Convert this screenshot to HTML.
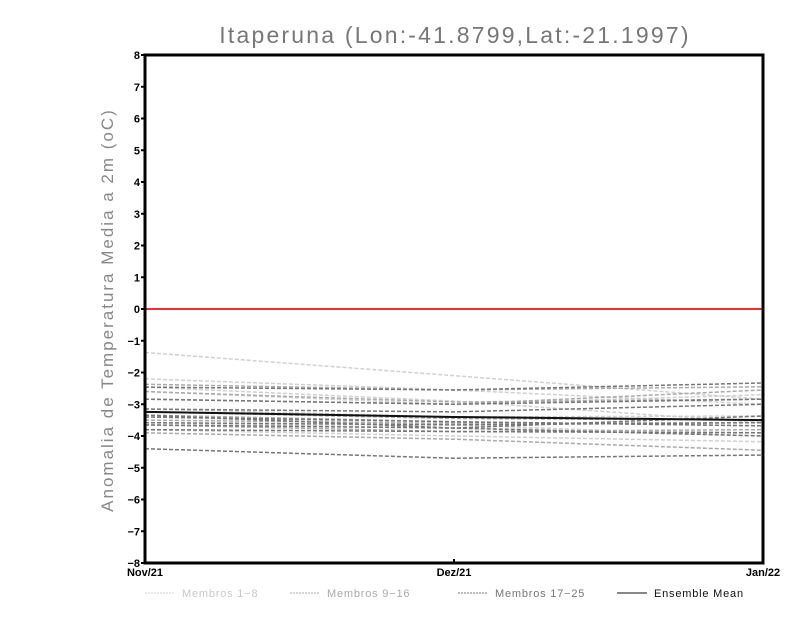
<!DOCTYPE html>
<html><head><meta charset="utf-8"><style>
body{margin:0;background:#fff;}
svg{display:block;font-family:"Liberation Sans",sans-serif;}
</style></head><body>
<svg id="chart" width="800" height="618">
<text x="455" y="43" text-anchor="middle" font-size="23" letter-spacing="2.2" fill="#777">Itaperuna (Lon:-41.8799,Lat:-21.1997)</text>
<text transform="translate(113,310) rotate(-90)" text-anchor="middle" font-size="17" letter-spacing="2" fill="#888">Anomalia de Temperatura Media a 2m (oC)</text>
<g id="series"></g>
<g id="axes"></g>
<g id="legend"></g>
</svg>
<script>
const categories = ["Nov/21","Dez/21","Jan/22"];
const yTicks = [8,7,6,5,4,3,2,1,0,-1,-2,-3,-4,-5,-6,-7,-8];
const members1to8 = [
 [-1.37,-2.1,-2.84],[-2.2,-2.55,-3.0],[-3.15,-3.4,-3.37],[-3.4,-3.65,-4.0],
 [-2.46,-2.9,-3.58],[-3.58,-3.75,-3.9],[-3.8,-4.0,-4.18],[-2.6,-3.0,-2.7]];
const members9to16 = [
 [-2.37,-2.55,-2.45],[-3.34,-3.55,-3.68],[-2.84,-3.0,-2.55],[-3.65,-3.86,-3.8],
 [-3.5,-3.6,-3.58],[-3.9,-4.1,-4.45],[-3.24,-3.45,-3.5],[-2.6,-2.93,-2.84]];
const members17to25 = [
 [-2.46,-2.55,-2.33],[-3.15,-3.24,-3.0],[-3.4,-3.55,-3.68],[-3.58,-3.65,-3.58],
 [-3.8,-3.86,-3.9],[-4.4,-4.7,-4.6],[-2.84,-3.0,-2.84],[-3.34,-3.75,-4.0],[-3.65,-3.75,-3.37]];
const ensembleMean = [-3.24,-3.4,-3.5];
const NS="http://www.w3.org/2000/svg";
const L=145,R=763,T=55,B=563;
const xs=i=>L+i*(R-L)/(categories.length-1);
const ys=v=>T+(8-v)*(B-T)/16;
function mk(t,a,p){const e=document.createElementNS(NS,t);for(const k in a)e.setAttribute(k,a[k]);p.appendChild(e);return e;}
const sg=document.getElementById('series'),ag=document.getElementById('axes'),lg=document.getElementById('legend');
function pts(arr){return arr.map((v,i)=>xs(i)+','+ys(v)).join(' ');}
function group(arr,color,name){
 arr.forEach((m,j)=>{
  const p=mk('polyline',{points:pts(m),fill:'none',stroke:color,'stroke-width':1.5,'stroke-dasharray':'4,2'},sg);
  
  
 });
}
group(members1to8,'#d0d0d0','member-light');
group(members9to16,'#aaaaaa','member-mid');
group(members17to25,'#777777','member-dark');
const mean=mk('polyline',{points:pts(ensembleMean),fill:'none',stroke:'#111','stroke-width':2},sg);


const zl=mk('line',{x1:L,x2:R,y1:ys(0),y2:ys(0),stroke:'#f03030','stroke-width':2},sg);


const fr=mk('rect',{x:L,y:T,width:R-L,height:B-T,fill:'none',stroke:'#000','stroke-width':3},ag);


yTicks.forEach(v=>{
 mk('line',{x1:L-4,x2:L,y1:ys(v),y2:ys(v),stroke:'#000','stroke-width':2},ag);
 const t=mk('text',{x:L-5,y:ys(v)+4,'text-anchor':'end','font-size':11,'font-weight':'bold'},ag);
 t.textContent=String(v).replace('-','\u2212');
 
 
});
categories.forEach((c,i)=>{
 mk('line',{x1:xs(i),x2:xs(i),y1:B-4,y2:B,stroke:'#000','stroke-width':2},ag);
 const t=mk('text',{x:xs(i),y:B+13,'text-anchor':'middle','font-size':11,'font-weight':'bold'},ag);
 t.textContent=c;
 
 
});
const leg=[['Membros 1\u22128','#d0d0d0','#c8c8c8',145],['Membros 9\u221216','#aaaaaa','#aaa',290],['Membros 17\u221225','#777777','#777',458],['Ensemble Mean','#111','#111',617]];
leg.forEach((l,i)=>{
 const ln=mk('line',{x1:l[3],x2:l[3]+30,y1:593,y2:593,stroke:l[1],'stroke-width':1,'stroke-dasharray':i<3?'2,1':'none'},lg);
 
 
 const t=mk('text',{x:l[3]+37,y:597,'font-size':11,'letter-spacing':'0.8',fill:l[2]},lg);
 t.textContent=l[0];
 
 
});
</script>
</body></html>
